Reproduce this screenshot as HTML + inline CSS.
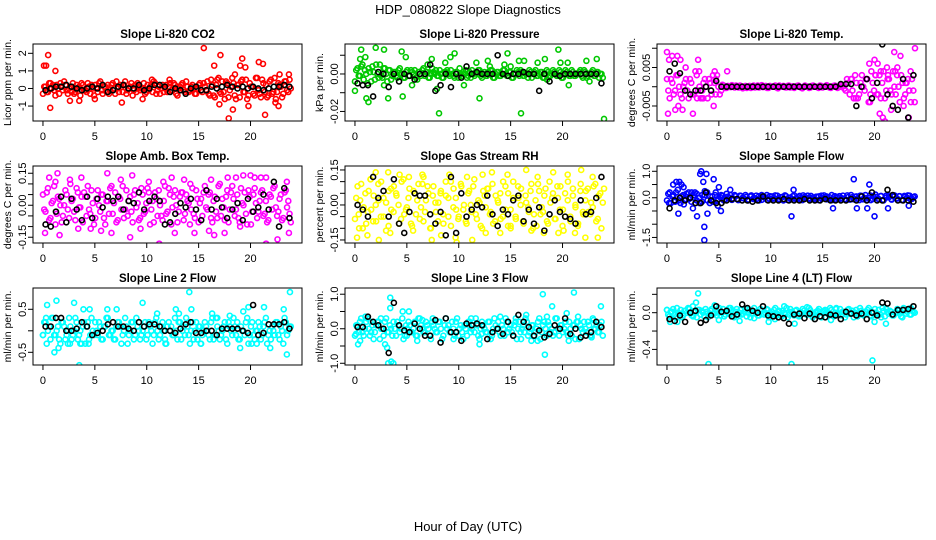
<!DOCTYPE html>
<html><head><meta charset="utf-8"><style>
html,body{margin:0;padding:0;background:#fff}
svg{display:block;font-family:"Liberation Sans",Helvetica,sans-serif}
</style></head><body>
<svg id="chart" width="936" height="540" viewBox="0 0 936 540">
<rect x="0" y="0" width="936" height="540" fill="#fff"/>
<text x="468" y="14" font-size="13" text-anchor="middle">HDP_080822  Slope Diagnostics</text>
<text x="468" y="531" font-size="13" text-anchor="middle">Hour of Day (UTC)</text>
<g id="panels"></g>
</svg>
<script>
// ---- data (scaled units noted per panel) ----
const xTicks = [0,5,10,15,20];
const panelTitles = ["Slope Li-820 CO2","Slope Li-820 Pressure","Slope Li-820 Temp.","Slope Amb. Box Temp.","Slope Gas Stream RH","Slope Sample Flow","Slope Line 2 Flow","Slope Line 3 Flow","Slope Line 4 (LT) Flow"];
const yTitles = ["Licor ppm per min.","kPa per min.","degrees C per min.","degrees C per min.","percent per min.","ml/min per min.","ml/min per min.","ml/min per min.","ml/min per min."];
const colors = ["#ff0000","#00c800","#ff00ff","#ff00ff","#ffff00","#0000ff","#00ffff","#00ffff","#00ffff"];
const units = [0.1,0.001,0.001,0.01,0.01,0.1,0.1,0.1,0.01];
const yLimits = [[-1.85,2.53],[-0.0251,0.016],[-0.0089,0.0111],[-0.177,0.184],[-0.163,0.167],[-1.71,1.2],[-0.795,0.995],[-1.05,1.18],[-0.57,0.269]];
const yTickVals = [[-1,0,1,2],[-0.02,-0.01,0,0.01],[-0.005,0,0.005,0.01],[-0.15,-0.1,-0.05,0,0.05,0.1,0.15],[-0.15,-0.1,-0.05,0,0.05,0.1,0.15],[-1.5,-1,-0.5,0,0.5,1],[-0.5,0,0.5],[-1,-0.5,0,0.5,1],[-0.4,-0.2,0,0.2]];
const yTickLabels = [["-1","0","1","2"],["-0.02","","0.00",""],["-0.005","","0.005",""],["-0.15","","","0.00","","","0.15"],["-0.15","","","0.00","","","0.15"],["-1.5","","","0.0","","1.0"],["-0.5","","0.5"],["-1.0","","0.0","","1.0"],["-0.4","","0.0",""]];

const band1 = [-3,1,-2,3,2,-4,0,3,-1,2,-3,1,3,-2,0,-4,2,-1,3,-3,0,2,-2,4,-3,1,2,-1,3,-3,0,2,-2,4,-1,1,-4,2,3,-1,0,-3,2,1,-2,3,-1,-3,2,0,-2,3,-1,2,-4,1,3,-2,1,-1,2,-3,0,3,-2,1,4,-4,2,-5,5,-2,4,-6,3,-1,6,-4,2,-5,5,-2,-6,3,1,-4,6,-3,5,-2,-5,4,-3,6,-2,2,-5,4,-1,5];
const band1b = [1,-2,3,0,-1,2,-3,1,4,-1,0,-2,-3,2,1,3,-1,-2,1,2,-4,0,3,-1,1,-2,-3,2,0,4,-2,1,2,-3,0,3,-1,-2,1,0,3,-2,-1,2,4,-3,1,0,-2,2,1,-1,3,-3,0,2,-1,4,-2,1,0,-3,2,-1,3,-1,-3,5,-4,2,6,-3,-2,4,-5,1,3,-6,2,4,-2,5,-4,1,-3,6,-1,-5,3,2,-4,5,-2,-6,3,1,-3,4,-2,0];
const band2 = [-4,3,-1,5,2,-5,1,4,-3,0,5,-2,3,-4,2,-1,1,-2,3,0,-2,2,-1,1,2,-3,0,2,-1,1,-2,3,0,-1,2,-2,1,2,-1,0,-2,1,3,-1,0,-2,1,2,-1,0,2,-2,1,-1,0,2,-2,1,-1,0,2,-1,1,-2,0,2,-1,1,-1,0,2,-2,1,-1,0,1,-2,2,-1,0,1,-1,2,-2,0,1,-1,2,-1,0,1,-1,2,-2,0,1,-1,1,-2,0];
const band2b = [2,-1,4,-3,0,3,-4,1,5,-2,-1,3,0,2,-3,1,-1,2,0,-2,1,-1,2,0,-2,1,-1,3,1,-2,0,1,2,-1,0,-2,1,0,2,-1,1,-2,0,1,2,-1,-2,0,1,2,-1,0,-1,1,2,-2,0,1,-1,2,0,-1,1,-2,0,1,2,-1,0,-2,1,0,2,-1,1,-2,0,1,-1,2,0,-1,1,-2,2,0,-1,1,-1,0,2,-2,1,-1,0,2,-1,1,0,-2];
const band3 = [2,-3,1,-1,3,-2,0,2,-3,1,-2,3,0,-1,2,-3,1,3,-2,0,-1,0.3,-0.3,0,0.4,-0.2,0,0.3,-0.4,0.2,0,-0.3,0.3,0,-0.2,0.4,0,-0.3,0.2,0,0.3,-0.4,0,0.2,-0.2,0.3,0,-0.3,0.2,0,-0.4,0.3,0,-0.2,0.3,0,-0.3,0.2,0,0.4,-0.2,0,0.3,-0.3,0,0.2,-1,1,2,-3,1,-2,3,-1,2,-4,1,3,-2,-3,4,-1,2,-2,0,3,-4,1,-2,2,4,-1];
const band3b = [-1,2,-2,3,0,-3,1,-1,2,-2,4,-1,-3,1,0,2,-2,1,3,-2,0.5,-0.3,0.2,-0.1,0,0.3,-0.2,0.1,0,-0.3,0.2,0.1,-0.2,0.3,0,-0.1,0.2,-0.3,0,0.1,-0.2,0.3,0,-0.1,0.2,-0.2,0.1,0,0.3,-0.2,0,0.1,-0.3,0.2,0,-0.1,0.3,-0.2,0,0.1,-0.3,0.2,0,-0.1,0.5,-0.5,2,-2,-1,3,-3,1,0,2,-4,4,-1,-2,3,1,-3,2,-1,4,-2,0,3,-3,1,-1,2,-4];
const band4 = [5,-3,8,-6,2,-9,4,0,-5,7,-2,10,3,-7,6,-1,-8,4,9,-4,1,-6,7,-3,5,-9,2,8,-4,6,-7,3,9,-2,-5,4,-8,7,1,-6,5,-3,8,-9,2,6,-5,0,-7,9,-3,5,-1,7,-8,4,6,-4,2,-9,8,-6,3,1,-5,9,-2,6,-8,4,-6,10,3,-7,7,-2,9,-5,5,-8,1,6,-9,4,-3,8,-6,2,7,-4,-8,5,-2,9,-5,3,-7,6,-1,-4];
const band4b = [-2,6,-7,1,9,-4,3,-8,0,5,-6,2,-3,8,-1,4,6,-5,-2,7,-9,3,0,5,-6,2,-4,9,1,-8,4,-2,-6,7,2,-3,5,-1,-7,8,-4,1,6,-2,-8,3,7,-5,2,-4,8,-9,4,0,-3,6,-7,5,1,-2,-4,7,-8,3,6,-1,5,-6,2,-3,9,-5,-1,4,-8,6,3,-2,-6,8,0,-4,7,-9,5,1,-3,6,-5,2,-7,4,8,-1,-3,5,-6,7,2,-8];
const band5 = [-6,8,2,-10,5,-3,11,-7,0,9,-5,3,-11,6,-2,8,4,-8,10,-4,-1,7,-9,5,2,-6,9,-3,8,-10,4,1,-7,5,-4,10,3,-9,7,-2,-5,8,0,-8,6,-3,11,-6,1,-10,4,7,-4,9,-7,2,5,-5,8,-9,-2,10,-6,3,7,-8,1,-3,9,-4,-9,6,-1,4,-7,10,3,-6,8,-2,-9,5,2,-5,7,-1,-8,9,-4,6,-3,1,8,-7,4,-10];
const band5b = [3,-4,9,-1,-8,6,-2,4,-7,2,10,-5,1,-9,7,-3,5,0,-6,11,-2,3,-8,6,-4,9,-1,-7,2,5,-10,8,-3,1,6,-8,4,-5,10,-1,3,-6,9,-2,-7,5,0,8,-4,2,-9,6,-1,7,-3,-8,4,1,-6,10,-2,5,-9,3,-5,8,0,-7,4,-1,6,-10,2,9,-4,-3,7,-8,1,5,-6,3,8,-2,-5,10,-7,4,0,-9,6,-3,2,7,-4,-1,9,-6,5,1];
const band6 = [-1,2,0.5,-1.5,3,-2,1,-0.5,2,-1.5,0,1.5,-2,1,2.5,-1,0.5,-1.5,2,-0.5,1,-1,1.5,0,-0.8,1,-0.5,0.8,0,1,-1,0.5,-0.5,0.8,-1,1,0.3,-0.8,0.6,-0.4,0.9,-0.7,0.2,-1,0.6,0,-0.6,0.9,-0.3,0.7,-0.9,0.4,0.8,-0.5,0.1,-0.8,0.5,-0.2,0.9,-0.6,0.2,-0.9,0.6,0,-0.4,0.8,-0.7,0.3,1,-0.6,0.5,-0.9,0.7,-0.1,-0.8,0.9,-0.5,1.2,-0.4,0.6,-1,0.8,0.2,-0.7,0.9,-0.3,0.6,-0.8,0.4,0.9,-0.6,0.2];
const band6b = [1.5,-2,1,2,-1,0.5,-2.5,1.5,-0.5,2,1,-1,0,-1.5,1,2,-2,0.5,1,-1,0.2,0.8,-0.6,0.4,1,-0.3,0.6,-0.9,0.7,-0.2,0.3,-0.7,0.9,0,-0.5,0.6,-0.8,0.2,1,-0.4,0.5,-0.2,0.8,-0.6,0.3,0.9,-0.8,0.1,0.6,-0.4,0.2,-0.7,0.9,0,-0.3,0.7,-0.5,0.4,-0.9,0.8,-0.1,0.5,-0.6,1,-0.8,0.3,0.6,-0.2,-0.5,0.9,-0.7,0.2,0.4,-0.3,0.8,-0.6,1,0,-0.9,0.5,0.3,-0.4,0.7,-0.8,0.1,0.9,-0.5,0.4,-0.2,0.6,-0.9,0.7,0,0.8,-0.4,0.5];
const band7 = [-1,2,0,-2,3,-1,1,-3,2,-2,0,1,-1,3,-2,0,1,-3,2,-1,0,2,-1,1,-2,1,3,-1,0,-2,2,1,-1,3,-3,0,2,-1,1,-2,0,2,-1,1,-3,2,0,-1,2,-2,1,0,-1,3,-2,2,0,-1,1,-3,2,0,-2,1,-1,2,0,-2,3,-1,1,-2,0,2,-3,1,-1,1,2,-2,0,-1,3,-1,2,-2,0,1,-1,2,-3,0,1,-1,2,-2,0,3,-1,1];
const band7b = [2,-3,1,3,-1,0,-2,2,1,-1,3,-2,0,2,-1,-3,2,1,-2,3,-1,0,2,-2,1,3,-1,0,-2,1,2,-3,0,1,-1,2,-2,3,0,-1,1,-2,2,0,-1,3,-2,1,0,-3,2,1,-1,0,2,-2,1,3,-1,0,-2,2,1,-3,0,1,-1,2,-2,3,0,-1,1,-2,2,0,3,-1,-2,1,0,2,-3,1,-1,0,2,-2,1,3,-1,-2,0,2,-1,1,-3,2,0,1];
const band8 = [-2,1,2,-1,0,3,-2,1,-1,2,-3,0,2,-1,1,-2,0,2,-1,3,-2,0,1,-1,2,-2,3,0,-1,1,-2,2,0,-1,2,-3,1,0,-1,2,-2,3,0,-1,1,-2,2,0,-1,1,-3,2,0,-1,2,-2,3,0,-1,1,-2,2,0,-1,1,-3,2,0,-1,2,-1,1,-2,0,3,-1,2,-2,1,0,-1,3,-2,1,0,-1,2,-2,1,2,-3,0,2,-1,1,-2,0,1,-1,2];
const band8b = [1,-1,3,-2,2,0,-1,-3,1,2,0,-2,3,-1,0,2,-2,1,0,-3,1,2,-1,0,-2,3,1,-1,2,0,-3,1,-1,2,0,-2,3,1,-1,0,2,-2,1,-3,0,2,-1,1,3,-2,0,1,-1,2,-3,0,1,2,-2,0,3,-1,1,-2,2,0,-1,1,3,-2,0,1,-1,2,-3,1,0,2,-1,-2,3,0,1,-1,2,-2,0,1,-3,2,1,-1,0,2,-2,3,0,-1,1,-2];
const band9 = [3,-4,1,-2,5,-1,-5,2,0,4,-3,1,-5,3,2,-4,1,-2,4,-1,-3,5,0,-4,2,-1,3,-5,4,0,-2,1,-4,3,-1,5,0,-3,2,-2,4,-5,1,3,-1,2,-4,0,5,-2,1,-3,3,-4,0,2,-2,5,-1,-3,1,4,-5,2,0,-2,3,-4,5,-1,-3,1,-2,4,0,-5,3,-1,2,-3,1,5,-4,0,-2,3,-5,2,4,-1,1,-3,0,2,-4,5,-1,3,-2,1];
const band9b = [-2,1,4,-5,0,3,-3,2,5,-1,-4,1,3,-2,0,4,-5,2,-1,3,1,-3,4,-2,0,5,-4,1,-2,3,-1,4,0,-5,2,1,-3,4,-1,0,3,-2,-4,5,1,-3,2,-1,-5,4,0,2,-3,1,4,-1,-2,3,-5,0,2,-4,1,3,-1,5,-3,0,-2,4,1,-5,3,-1,2,0,-4,5,-2,1,3,-3,0,4,-1,-2,5,-4,1,2,-3,0,4,-1,-5,3,1,-2,2,0];

const scatterHours1 = [0.1,0.3,0.5,0.7,1.2,3.5,5,7.6,9.6,15.5,16.5,17,17.1,17.9,18.3,18.5,19,19.2,19.5,19.8,20.8,21.2,21.4,22.4,22.8,22.7,23.7,2.6,12.2,10.5];
const scatterVals1 = [13,13,19,-11,10,-7,-6,-8,-6,23,13,-9,19,-17,-12,8,13,17,12,-10,15,14,-15,-8,8,-10,8,-7,5,5];
const scatterHours2 = [0,0.6,0.5,1.1,1.3,1,2,2.8,2.8,3.2,4.5,4.6,4.9,5.5,6.5,7,7.4,7.9,8.1,8.7,9.2,9.6,10.5,11.7,12,12.8,13,14.4,14.7,15,15.8,16,16.3,17.6,18.3,18.5,19.6,19.8,20.5,20.6,22.3,22.6,23.3,24];
const scatterVals2 = [-9,13,8,-13,-15,9,14,13,-6,-13,12,-12,9,-6,2,5,8,-8,-21,6,9,11,-6,6,-13,7,4,5,11,4,7,-21,7,6,8,-3,13,6,6,-6,7,-4,8,-24];
const scatterHours3 = [0,0.2,0.5,1,1.3,0.1,0.5,0.8,1.1,1.5,2.5,3,3.1,2.9,4.6,4.5,5.8,4.7,3.5,20,20.3,20.5,20.8,21,21.6,21.9,22.5,23.3,23.5,23.9,22.8,19.6,22,22.2,21.3,20.1,18.2,17.8,19.5,23,21.2,20.6,1.8,3.4];
const scatterVals3 = [9,7,8,8,7,-7,-10,-6,-5,-6,-7,7,4,-3,4,-5,4,2,-3,7,6,-7,-8,-9,-6,9,8,-8,-4,10,-5,-2,4,5,3,3,-3,2,6,1,5,4,5,-3];
const scatterHours4 = [0.2,0.6,1.2,1.4,1.6,2.6,3.7,4.6,5.6,6.2,6.6,7.5,8.4,8.6,9.4,10.2,11.2,11.6,12.4,12.7,13.6,14.2,14.6,16,16.2,16.5,17.5,17.8,18.6,19,19.3,20,20.4,21,21.5,21.5,22.6,23.5,23.7,3.4];
const scatterVals4 = [-13,13,11,15,-14,12,13,-11,-12,15,-13,12,-15,14,-11,11,-18,11,13,-13,12,10,-13,-12,12,-14,-13,13,13,-10,14,14,13,13,13,-18,-16,11,-13,-11];
const scatterHours5 = [0.2,0.4,1.2,2,2.3,3.2,3.4,4.3,5.2,5.6,6.6,7.4,8.3,9.1,9.7,10.8,11.3,12.3,12.6,13.2,14,14.7,15,16.5,17,17.6,19.1,19.6,20.1,20.5,21.2,21.8,22.2,22.9,23.4,24,9.8,18.2,6.5,1.5];
const scatterVals5 = [-14,-10,-13,14,-15,14,-12,13,12,-11,12,-15,-13,13,-14,12,-15,13,-12,14,-12,13,-10,15,-11,12,14,-12,-11,13,-12,15,-14,12,-14,7,-16,-12,13,11];
const scatterHours6 = [0.6,0.9,1.2,1.4,1.1,0.2,2.5,2.9,3.2,3.3,3.5,3.6,3.6,3.8,4.5,5,5.2,4.9,3.9,6.1,12,12.2,16,18,18.3,19.3,19.5,20,21.3,23.3,1.6,2.7];
const scatterVals6 = [5,6,6,5,-6,-2,-4,-7,9,10,6,-11,-16,9,7,4,-5,-3,-6,3,-7,3,-4,7,-4,-4,5,-7,-4,-3,4,2];
const scatterHours7 = [0,0.4,0.3,1.1,1.3,1.5,2.4,2.6,3,3.6,3.5,3.9,4.5,4.4,6.2,7.1,9.6,11,11.8,12.8,13.1,14.1,14.3,15.2,16.3,16.8,18,19,19.3,19.8,20.1,20.6,21.3,21.9,23.2,23.5,23.8];
const scatterVals7 = [-1,6,3,-5,7,-4,-3,-3,6.5,-3,-8,5,5,-3,5,5,6.5,4,-3,5,4,9,5,-3,4,3,3.5,-4,4.5,5.5,-3,-3,5.5,-4,5,-5.5,9];
const scatterHours8 = [0.1,0.3,0.5,1,1.5,2.5,2.9,3.1,3.2,3.5,3.7,3.4,3.4,4.6,5.2,5,6,6.5,7.5,9.5,11.2,12,12.2,14,15.5,16,16.5,17,17.6,18.1,18.3,18.5,19,20.4,20.6,21.1,21.5,22.8,23,23.7];
const scatterVals8 = [-1.5,-4.5,-3.5,3.5,2,3,-4.5,-5.5,-10,-9.5,-10,6,9,5,5,-2,-3.5,2.5,3,-3,3,-4.5,-1.5,3.5,3,-3,4,-3.5,-3.5,10,-7.5,3.5,6.5,4.5,-3.5,10.5,3.5,-2.5,2.5,6.5];
const scatterHours9 = [0,0.3,1,2.5,2.8,3,4,4.6,5,6,9.8,11.3,12,12.3,13.5,15.8,16.3,19.8,20,21.1,23.5,10.4,7,8.4];
const scatterVals9 = [3,-10,-10,7,11,21,-56,8,-8,5,-10,7,-56,-12,6,-8,4,-52,-10,-12,5,-7,-9,-6];

const black1 = [-1,0,1,1,2,1,0,-1,0,1,0,2,-2,-1,1,2,0,0,2,-1,0,2,2,1,-2,0,-1,-3,0,1,-1,-1,1,0,1,2,1,0,1,0,1,0,-1,0,1,1,2,1];
const black2 = [-5,-6,-6,-12,1,0,-7,0,-4,0,-1,-3,0,0,5,-9,-6,0,-7,0,-2,4,0,1,0,0,0,10,0,-1,0,0,1,0,0,-9,0,-4,0,-1,0,0,0,0,0,0,0,-5];
const black3 = [4,6,3.5,-1,-2,-1,-1,0,-1,1.5,0,0,0,0,0,0,0,0,0,0,0,0,0,0,0,0,0,0,0,0,0,0,0,0.7,0.7,0.7,-5,0,2,-3,1,11,-2,-5,-6,2,-8,3];
const black4 = [-9,-10,-3,4,-8,3,-2,-7,4,-6,3,-1,4,2,4,-2,2,1,6,-2,2,4,2,-9,-8,-4,1,-1,3,-2,-7,7,-2,3,-1,-6,-2,1,-7,3,-3,-1,5,-2,11,-10,8,-6];
const black5 = [0,-2,-5,12,3,6,-5,11,-8,-12,-3,5,4,4,-4,-8,-3,-13,12,-12,5,-5,-2,0,-1,4,-4,-9,-2,-4,2,4,-7,-2,-8,-1,-11,-4,2,-3,-5,-6,-8,2,-4,-3,3,12];
const black6 = [-4,-1,0,-1,0,-2,-2,2,-1,-2,-2,-1,-0.5,-0.5,-1,-1,-1.5,-1,0.5,-1,-1,-1,-0.5,-1,-1,-1,-0.5,-1,-1,-1,-0.5,-1,-1,-1,-1,-0.5,-1,0.5,-1,2,-1,-1,3,1,-1,-1,-1,-1.5];
const black7 = [1,1,3,3,0,0,0.5,2,1,-1,-0.5,0,1.5,2,1,1,0.5,0,2,1,1.5,1.5,1,0,0,-0.5,0.5,1.5,2,-0.5,-0.5,0,0,-1,0.5,0.5,0.5,0.5,0,-0.5,6,-1,-0.5,1.5,1.5,1.5,2,0.5];
const black8 = [0.5,0.5,3.5,2,1,0,-7,7.5,1,-0.5,-1,1.5,0,-2,-2,2.5,-4,3,-1,-1,-3.5,1.5,1,1.5,1,-3,-1,0,-1.5,2,-2,4,2,0.5,-2,-0.5,-2.5,-1.5,1,0,3,-1.5,0,-2.5,-2,-1,2,0.5];
const black9 = [-7,-9,-3,-10,0,2,-11,-8,-3,7,1,2,-4,-2,9,5,2,0,7,-3,-4,-5,-6,-12,-2,-1,-6,-1,-7,-4,-5,-2,-3,-7,1,-1,-3,-1,-7,0,-3,11,10,-2,3,3,4,7];

const bands = [band1,band2,band3,band4,band5,band6,band7,band8,band9];
const bandsB = [band1b,band2b,band3b,band4b,band5b,band6b,band7b,band8b,band9b];
const scatterHours = [scatterHours1,scatterHours2,scatterHours3,scatterHours4,scatterHours5,scatterHours6,scatterHours7,scatterHours8,scatterHours9];
const scatterVals = [scatterVals1,scatterVals2,scatterVals3,scatterVals4,scatterVals5,scatterVals6,scatterVals7,scatterVals8,scatterVals9];
const blacks = [black1,black2,black3,black4,black5,black6,black7,black8,black9];

// ---- layout ----
const NS = "http://www.w3.org/2000/svg";
const colLeft = [33,345,657], rowTop = [44,166,288], PW = 269, PH = 77;
const xMin = -0.96, xMax = 24.96;
const root = document.getElementById('panels');
function mk(tag, attrs, parent){const e=document.createElementNS(NS,tag);for(const k in attrs)e.setAttribute(k,attrs[k]);parent.appendChild(e);return e;}

for (let p=0;p<9;p++){
  const L = colLeft[p%3], T = rowTop[Math.floor(p/3)];
  const [y0,y1] = yLimits[p];
  const xs = h => L + (h - xMin)/(xMax - xMin)*PW;
  const ys = v => T + PH - (v - y0)/(y1 - y0)*PH;
  const g = mk('g',{},root);
  
  
  const t = mk('text',{x:L+PW/2,y:T-6,'font-size':11.5,'font-weight':'bold','text-anchor':'middle'},g);
  t.textContent = panelTitles[p];
  
  
  const yt = mk('text',{transform:`translate(${L-22},${T+PH/2}) rotate(-90)`,'font-size':10.5,'text-anchor':'middle'},g);
  yt.textContent = yTitles[p];
  
  
  xTicks.forEach(v=>{
    const x = xs(v);
    const tk = mk('line',{x1:x,x2:x,y1:T+PH,y2:T+PH+5,stroke:'#000','stroke-width':1},g);
    
    
    const lb = mk('text',{x:x,y:T+PH+19,'font-size':11,'text-anchor':'middle'},g);
    lb.textContent = String(v);
    
    
  });
  yTickVals[p].forEach((v,i)=>{
    const y = ys(v);
    const tk = mk('line',{x1:L-5,x2:L,y1:y,y2:y,stroke:'#000','stroke-width':1},g);
    
    
    if (yTickLabels[p][i]) {
      const lb = mk('text',{transform:`translate(${L-7},${y}) rotate(-90)`,'font-size':11,'text-anchor':'middle'},g);
      lb.textContent = yTickLabels[p][i];
      
      
    }
  });
  const cid = 'clip'+p;
  const cp = mk('clipPath',{id:cid},g);
  mk('rect',{x:L,y:T,width:PW,height:PH},cp);
  const pts = mk('g',{'clip-path':`url(#${cid})`,fill:'none','stroke-width':1.6},g);
  
  
  const u = units[p];
  [bands[p], bandsB[p]].forEach((band, k)=>{
    band.forEach((v,i)=>{
      const h = (i + k*0.5)*24/band.length;
      const c = mk('circle',{cx:xs(h),cy:ys(v*u),r:2.5,stroke:colors[p]},pts);
      
      
    });
  });
  scatterVals[p].forEach((v,i)=>{
    const c = mk('circle',{cx:xs(scatterHours[p][i]),cy:ys(v*u),r:2.5,stroke:colors[p]},pts);
    
    
  });
  const bk = blacks[p];
  bk.forEach((v,i)=>{
    const h = (i+0.5)*24/bk.length;
    const c = mk('circle',{cx:xs(h),cy:ys(v*u),r:2.5,stroke:'#000'},pts);
    
    
  });
  const box = mk('rect',{x:L,y:T,width:PW,height:PH,fill:'none',stroke:'#000','stroke-width':1},g);
  
  
}
</script>
</body></html>
